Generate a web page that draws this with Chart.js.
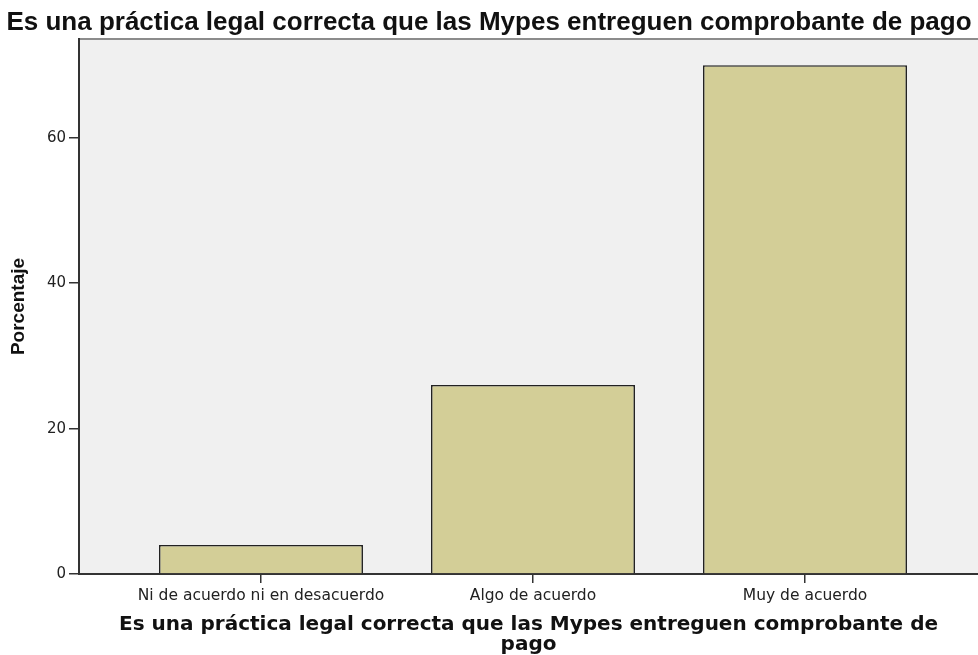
<!DOCTYPE html>
<html>
<head>
<meta charset="utf-8">
<script src="https://cdn.jsdelivr.net/npm/chart.js@4.4.1/dist/chart.umd.min.js"></script>
<style>
  html, body { margin: 0; padding: 0; background: #fff; overflow: hidden; }
  #wrap { width: 978px; height: 655px; }
</style>
</head>
<body>
<div id="wrap"><canvas id="graficoBarras" width="978" height="655"></canvas></div>
<script>
// Datos
var categorias = ["Ni de acuerdo ni en desacuerdo", "Algo de acuerdo", "Muy de acuerdo"];
var porcentajes = [4, 26, 70];
var yTicks = [0, 20, 40, 60];
var titulo = "Es una práctica legal correcta que las Mypes entreguen comprobante de pago";

// fondo gris del area del grafico + borde superior
var fondoPlot = {
    id: "fondoPlot",
    beforeDraw: function(chart) {
        var a = chart.chartArea, ctx = chart.ctx;
        ctx.save();
        ctx.fillStyle = "#f0f0f0";
        ctx.fillRect(a.left, a.top, a.right - a.left, a.bottom - a.top);
        ctx.strokeStyle = "#8c8c8c";
        ctx.lineWidth = 2;
        ctx.beginPath();
        ctx.moveTo(a.left, a.top);
        ctx.lineTo(a.right, a.top);
        ctx.stroke();
        ctx.restore();
    }
};

var ctxBarras = document.getElementById("graficoBarras");
var grafico = new Chart(ctxBarras, {
    type: "bar",
    data: {
        datasets: [{
            label: "Porcentaje",
            data: porcentajes.map(function(v, i) { return {x: i + 1, y: v}; }),
            backgroundColor: "#d3ce97",
            borderColor: "#222",
            borderWidth: 1.6,
            barPercentage: 0.75,
            categoryPercentage: 1
        }]
    },
    options: {
        responsive: false,
        animation: false,
        devicePixelRatio: 1,
        layout: { padding: 0 },
        plugins: {
            legend: { display: false },
            tooltip: { enabled: false },
            title: {
                display: true,
                text: titulo,
                color: "#111",
                font: { family: "Liberation Sans, Arial", size: 26, weight: "bold", lineHeight: 1.2 },
                padding: { top: 7.4, bottom: 0.4 }
            }
        },
        scales: {
            x: {
                type: "linear",
                offset: false,
                min: 0.331,
                max: 3.636,
                afterBuildTicks: function(s) {
                    s.ticks = categorias.map(function(c, i) { return {value: i + 1}; });
                },
                afterFit: function(s) { s.height = 81; },
                grid: { offset: false, drawOnChartArea: false, drawTicks: true, tickLength: 9, color: "#333", lineWidth: 1.5 },
                border: { display: true, color: "#333", width: 2 },
                ticks: {
                    padding: 4,
                    color: "#222",
                    maxRotation: 0,
                    autoSkip: false,
                    font: { family: "DejaVu Sans", size: 15.5, lineHeight: 1.2 },
                    callback: function(v) { return categorias[v - 1]; }
                },
                title: {
                    display: true,
                    text: ["Es una práctica legal correcta que las Mypes entreguen comprobante de", "pago"],
                    color: "#111",
                    font: { family: "DejaVu Sans", size: 20, weight: "bold", lineHeight: 1.0 },
                    padding: { top: 0, bottom: 0 }
                }
            },
            y: {
                min: 0,
                max: 73.6,
                afterBuildTicks: function(s) {
                    s.ticks = yTicks.map(function(v) { return {value: v}; });
                },
                afterFit: function(s) { s.width = 79; },
                grid: { drawOnChartArea: false, drawTicks: true, tickLength: 10, color: "#333", lineWidth: 1.5 },
                border: { display: true, color: "#333", width: 2 },
                ticks: {
                    padding: 3,
                    color: "#222",
                    font: { family: "DejaVu Sans", size: 15 }
                },
                title: {
                    display: true,
                    text: "Porcentaje",
                    color: "#111",
                    font: { family: "Liberation Sans, Arial", size: 19, weight: "bold", lineHeight: 1.2 },
                    padding: { top: 7, bottom: 0 }
                }
            }
        }
    },
    plugins: [fondoPlot]
});
</script>
</body>
</html>
